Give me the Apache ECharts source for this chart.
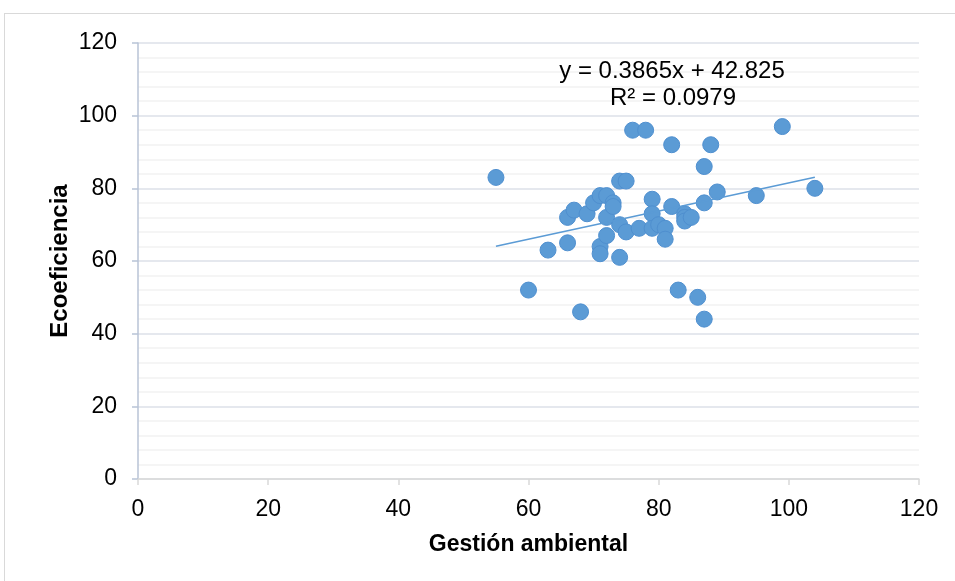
<!DOCTYPE html>
<html>
<head>
<meta charset="utf-8">
<script src="https://cdn.jsdelivr.net/npm/echarts@6/dist/echarts.min.js"></script>
<style>
  html, body { margin: 0; padding: 0; background: #fff; }
  #frame { position: absolute; left: 4px; top: 13px; width: 1000px; height: 700px; border: 1px solid #d9d9d9; }
  #chart { width: 955px; height: 581px; position: absolute; left: 0; top: 0; }
</style>
</head>
<body>
<div id="frame"></div>
<div id="chart"></div>
<script>
// Gestión ambiental (x) vs Ecoeficiencia (y)
const gestion = [55, 60, 63, 68, 66, 66, 67, 69, 70, 71, 72, 71, 71, 72, 72, 73, 73, 74, 75, 74,
  74, 75, 76, 78, 77, 79, 79, 79, 80, 81, 81, 82, 82, 83, 84, 84, 84, 85, 86, 87,
  87, 87, 88, 89, 95, 99, 104];
const ecoeficiencia = [83, 52, 63, 46, 72, 65, 74, 73, 76, 78, 78, 64, 62, 72, 67, 76, 75, 82, 82, 70,
  61, 68, 96, 96, 69, 77, 73, 69, 70, 69, 66, 92, 75, 52, 73, 72, 71, 72, 50, 86,
  76, 44, 92, 79, 78, 97, 80];
const yTicks = [0, 20, 40, 60, 80, 100, 120];
const xTicks = [0, 20, 40, 60, 80, 100, 120];

// línea de tendencia (Excel)
const slope = 0.3865;
const intercept = 42.825;

const points = gestion.map((x, i) => [x, ecoeficiencia[i]]);
const xMinData = Math.min(...gestion);
const xMaxData = Math.max(...gestion);
const trend = [
  [xMinData, slope * xMinData + intercept],
  [xMaxData, slope * xMaxData + intercept]
];

const FONT = "Liberation Sans";
const chart = echarts.init(document.getElementById("chart"));

const option = {
  animation: false,
  grid: { left: 138, right: 36, top: 43, bottom: 102 },
  xAxis: {
    type: "value",
    min: xTicks[0],
    max: xTicks[xTicks.length - 1],
    interval: 20,
    name: "Gestión ambiental",
    nameLocation: "middle",
    nameGap: 54,
    nameMoveOverlap: false,
    nameTextStyle: { fontFamily: FONT, fontSize: 23, fontWeight: "bold", color: "#000" },
    axisLine: { onZero: false, lineStyle: { color: "#d9d9d9", width: 1.5 } },
    axisTick: { show: true, inside: false, length: 6, lineStyle: { color: "#d9d9d9", width: 1.5 } },
    axisLabel: { fontFamily: FONT, fontSize: 23, color: "#000", margin: 19 },
    splitLine: { show: false }
  },
  yAxis: {
    type: "value",
    min: yTicks[0],
    max: yTicks[yTicks.length - 1],
    interval: 20,
    name: "Ecoeficiencia",
    nameLocation: "middle",
    nameGap: 66,
    nameMoveOverlap: false,
    nameTextStyle: { fontFamily: FONT, fontSize: 24, fontWeight: "bold", color: "#000" },
    axisLine: { show: true, lineStyle: { color: "#b8c3d6", width: 1.5 } },
    axisTick: { show: true, inside: false, length: 6, lineStyle: { color: "#b8c3d6", width: 1.5 } },
    axisLabel: { fontFamily: FONT, fontSize: 23, color: "#000", margin: 21 },
    splitLine: { show: true, lineStyle: { color: "#dde1e8", width: 1.5 } },
    minorTick: { show: false, splitNumber: 5 },
    minorSplitLine: { show: true, lineStyle: { color: "#f2f2f2", width: 1.5 } }
  },
  graphic: [
    {
      type: "text",
      x: 672,
      y: 71,
      z: 10,
      style: {
        text: "y = 0.3865x + 42.825",
        font: "24px 'Liberation Sans'",
        fill: "#000",
        align: "center",
        verticalAlign: "middle"
      }
    },
    {
      type: "text",
      x: 673,
      y: 98,
      z: 10,
      style: {
        text: "R² = 0.0979",
        font: "24px 'Liberation Sans'",
        fill: "#000",
        align: "center",
        verticalAlign: "middle"
      }
    }
  ],
  series: [
    {
      name: "Tendencia",
      type: "line",
      data: trend,
      symbol: "none",
      z: 3,
      lineStyle: { color: "#5b9bd5", width: 1.5 }
    },
    {
      name: "Datos",
      type: "scatter",
      data: points,
      symbolSize: 16,
      z: 2,
      itemStyle: { color: "#5b9bd5", borderColor: "#4f8fcf", borderWidth: 1, opacity: 1 }
    }
  ]
};

chart.setOption(option);
</script>
</body>
</html>
